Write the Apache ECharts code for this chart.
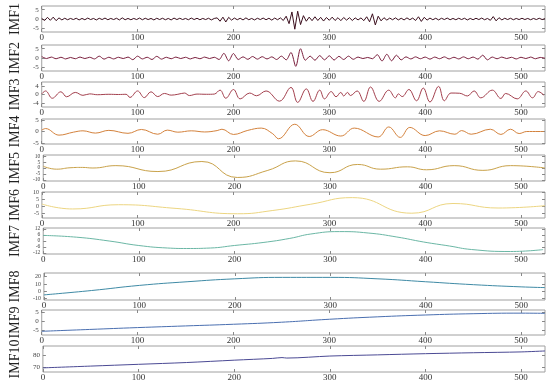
<!DOCTYPE html>
<html><head><meta charset="utf-8">
<script src="https://cdn.jsdelivr.net/npm/echarts@6/dist/echarts.min.js"></script>
<style>html,body{margin:0;padding:0;background:#fff}#c{width:550px;height:389px}</style>
</head><body><div id="c"></div>
<script>
const imfNames = ['IMF1','IMF2','IMF3','IMF4','IMF5','IMF6','IMF7','IMF8','IMF9','IMF10'];
const xTicks = [0,100,200,300,400,500];
const xMax = 525;
// y tick labels per panel
const yTicks = [[-5,0,5],[-5,0,5],[-4,0,4],[-5,0,5],[-10,-5,0,5,10],[-5,0,5,10],[-12,-6,0,6,12],[-10,0,10,20],[-5,0,5],[70,80]];
const yRanges = [[-7,7],[-7,7],[-6,6],[-5.5,5.5],[-11,11],[-8.5,10.5],[-13,13],[-12,25],[-7.5,6],[66,88]];
const yLabelSize = [7,7,7,7,5.5,6,5.5,6,7,7];
const lineColors = ['#3b0f1e','#7a1f3d','#a3404e','#d3823d','#c9a24a','#ecd581','#6bb7a5','#3f8aa5','#4a6fb0','#4b4a94'];

// IMF1: samples every 3 points
const imf1Step = 3;
const imf1 = [0.3,-0.8,0.9,-0.7,1.0,-0.9,0.6,-0.5,0.4,-0.4,0.3,
 -0.3,0.4,-0.5,0.3,-0.4,0.5,-0.3,0.3,-0.5,0.4,-0.3,0.5,-0.4,0.3,-0.3,0.4,-0.5,0.6,-0.4,0.3,
 -0.4,0.3,-0.3,0.5,-0.4,0.4,-0.3,0.3,-0.5,0.4,-0.3,0.4,-0.4,0.3,-0.5,0.5,-0.3,0.4,-0.3,0.3,
 -0.4,0.5,-0.3,0.4,-0.4,0.3,-0.3,0.4,-0.5,0.3,
 0.6,-1.2,1.0,-1.6,0.9,-0.6,
 0.5,-0.4,0.4,-0.5,0.6,-0.4,0.3,-0.5,0.4,-0.3,0.5,-0.4,0.4,-0.6,0.5,-0.4,0.6,
 -0.8,1.5,-2.5,3.8,-5.5,4.2,-3.0,1.8,-1.2,
 1.0,-0.9,1.2,-0.8,0.9,-1.1,0.8,-0.7,1.0,-0.8,0.7,-0.9,0.8,-0.6,0.7,-0.8,0.6,-0.5,
 0.6,-0.9,1.2,-1.5,2.8,-3.2,1.5,-1.0,0.7,-0.6,
 0.5,-0.4,0.6,-0.5,0.4,-0.5,0.6,-0.4,0.5,
 -0.8,1.2,-1.3,0.9,-0.6,
 0.5,-0.4,0.4,-0.5,0.4,-0.3,0.5,-0.4,0.3,-0.4,0.4,-0.3,0.4,-0.5,0.3,-0.4,0.4,-0.3,0.5,-0.4,0.3,
 -0.7,1.3,-1.0,0.7,-0.5,
 0.4,-0.3,0.4,-0.4,0.3,-0.3,0.4,-0.3,0.3,-0.4,0.3,-0.3,0.4,-0.3,0.2];
// IMF2: samples every 5 points
const imf2Step = 5;
const imf2 = [0.8,-0.3,0.5,-0.4,0.4,-0.5,0.3,-0.4,0.5,-0.3,0.4,-0.5,
 1.0,-0.6,
 0.4,-0.5,0.4,-0.3,0.5,
 -0.9,1.0,
 -0.5,0.4,-0.8,0.9,-0.6,
 0.4,-0.4,0.5,-0.3,0.4,-0.5,0.3,-0.4,0.5,-0.3,0.4,
 -0.8,2.5,-1.5,2.4,-0.8,
 0.6,-0.7,0.8,-0.6,0.7,-0.5,0.6,-0.8,
 1.0,-1.0,3.0,-4.5,5.0,-1.2,1.0,
 -1.2,1.3,-1.0,1.2,-1.1,0.9,-0.8,1.0,-0.7,0.5,
 -0.3,0.3,-0.4,
 1.8,-1.6,2.0,-1.5,1.5,-1.0,
 0.6,-0.5,0.6,-0.4,0.5,-0.6,0.5,-0.4,0.6,-0.5,0.4,-0.5,0.6,-0.4,0.5,-0.6,
 1.5,-1.0,
 0.5,-0.4,0.5,-0.3,0.4,-0.5,0.4,-0.3,0.5,-0.4,0.3,-0.1];
const imf3 = [[0,0.3],[4,1.7],[11,-1.8],[20,1.3],[26,-1.1],[35,1.0],[43,-0.4],[50,0.3],[58,-0.1],[70,0.1],[80,0],[88,0.1],
 [92,-1.4],[100,1.7],[107,-1.5],[114,1.3],[121,-1.0],[128,0.5],[135,-0.3],[142,0.1],[149,0.7],[154,-0.5],[162,0.2],[172,0.1],[180,0.2],
 [186,2.1],[192,-1.8],[200,2.4],[207,-2.1],[217,0.7],[224,-0.6],[234,1.7],[248,-3.2],
 [260,3.4],[267,-3.8],[276,2.7],[283,-3.3],[290,2.1],[295,-2.1],[302,1.4],[307,-1.1],[312,1.0],[315,-0.7],[319,1.0],[322,-0.5],[329,1.7],
 [336,-3.3],[343,3.6],[352,-3.3],[362,2.1],[369,-1.6],[372,0.3],[376,-1.0],[383,2.4],[391,-3.0],[398,3.1],[405,-3.6],[414,3.9],[420,-3.0],
 [427,0.7],[436,0.6],[444,-0.7],[451,1.7],[458,-1.6],[470,2.1],[479,-1.9],[484,0.5],[496,-2.1],[505,1.7],[512,-1.6],[518,1.4],[524,-0.4]];
const imf4 = [[0,0.6],[4,1.3],[18,-1.6],[33,-0.3],[43,0.3],[56,-0.7],[70,0.5],[90,-0.8],[104,0.9],[121,-1.2],[131,0.6],[142,-0.3],[156,0.3],
 [170,-0.2],[183,0.4],[188,1.0],[200,-1.3],[215,0.5],[229,1.5],[241,-1.0],[247,-3.2],[264,3.2],[279,-2.2],[293,0.8],[312,-2.0],[326,1.5],
 [351,-2.4],[362,2.0],[374,-2.6],[384,1.8],[400,-1.8],[415,0.3],[431,-1.2],[438,0.4],[448,-1.2],[468,1.0],[479,-1.3],[489,1.0],[498,-0.9],[506,0],[524,0]];
const imf5 = [[0,1.5],[14,-1],[28,0.2],[41,0.5],[52,0],[76,2],[120,-3],[166,5.5],[203,-8],[235,-2],[264,6],[300,-4],[329,3],[353,-1],[381,1],[401,-1.5],[430,2],[460,-2],[489,2],[525,0]];
const imf6 = [[0,1.7],[32,-1.9],[80,1.2],[140,-1.5],[204,-5.4],[241,-3],[280,1.5],[324,6.4],[386,-5],[429,2.1],[476,-1.2],[525,0.5]];
const imf7 = [[0,5.6],[35,3.8],[69,0],[100,-4.5],[130,-7],[150,-7.5],[175,-7],[200,-4.5],[230,-1.5],[258,2.6],[280,7],[310,9.4],[340,8],[370,4],[398,-1],[425,-5],[448,-8.5],[489,-10.5],[523,-8.6]];
const imf8 = [[0,-5],[50,1],[100,8],[150,13],[200,17],[250,19],[300,19],[350,17],[400,13],[450,9],[500,6],[525,5]];
const imf9 = [[0,-5.5],[50,-4.5],[100,-3.5],[150,-2.6],[200,-1.7],[250,-0.6],[300,1],[350,2.3],[400,3.3],[450,4],[500,4.3],[525,4.2]];
const imf10 = [[0,69.5],[50,71],[100,72.5],[150,74],[200,76],[240,77.5],[250,78.2],[255,77.8],[300,79.5],[350,80.5],[400,81.5],[450,82.3],[500,83],[525,83.8]];

const stepped = (arr, step) => arr.map((v,i)=>[i*step, v]);
const seriesData = [stepped(imf1,imf1Step), stepped(imf2,imf2Step), imf3, imf4, imf5, imf6, imf7, imf8, imf9, imf10];
const smoothness = [false,0.3,0.4,0.4,0.5,0.5,0.5,0.5,0.5,0.3];

// layout (px)
const frames = [[6,32],[45,71],[82,107],[119,144],[155,181],[192,218],[228,254],[273,300],[310,335],[346,372]];
const L = 36, R = 5;
const font = 'Liberation Serif';
const grid=[], xAxis=[], yAxis=[], series=[];
const tickStyle = {color:'#888'};
frames.forEach((f,i)=>{
  grid.push({left:L, right:R, top:f[0], height:f[1]-f[0], show:true, borderColor:'#a0a0a0', borderWidth:1, backgroundColor:'#fff'});
  xAxis.push({type:'value', gridIndex:i, min:0, max:xMax, position:'bottom',
    axisLine:{show:false, onZero:false}, splitLine:{show:false},
    axisTick:{show:true, inside:true, length:3, lineStyle:tickStyle, customValues:xTicks},
    axisLabel:{show:true, customValues:xTicks, fontFamily:font, fontSize:9, color:'#333', margin:1}});
  xAxis.push({type:'value', gridIndex:i, min:0, max:xMax, position:'top',
    axisLine:{show:false, onZero:false}, splitLine:{show:false},
    axisTick:{show:true, inside:true, length:3, lineStyle:tickStyle, customValues:xTicks},
    axisLabel:{show:false}});
  yAxis.push({type:'value', gridIndex:i, min:yRanges[i][0], max:yRanges[i][1], position:'left',
    name:imfNames[i], nameLocation:'middle', nameRotate:90, nameGap:19,
    nameTextStyle:{fontFamily:font, fontSize:14, color:'#222'},
    axisLine:{show:false, onZero:false}, splitLine:{show:false},
    axisTick:{show:true, inside:true, length:3, lineStyle:tickStyle, customValues:yTicks[i]},
    axisLabel:{show:true, customValues:yTicks[i], fontFamily:font, fontSize:yLabelSize[i], color:'#444', margin:3,
      hideOverlap:false, showMinLabel:true, showMaxLabel:true}});
  yAxis.push({type:'value', gridIndex:i, min:yRanges[i][0], max:yRanges[i][1], position:'right',
    axisLine:{show:false, onZero:false}, splitLine:{show:false},
    axisTick:{show:true, inside:true, length:3, lineStyle:tickStyle, customValues:yTicks[i]},
    axisLabel:{show:false}});
  series.push({type:'line', xAxisIndex:2*i, yAxisIndex:2*i, data:seriesData[i], showSymbol:false,
    smooth:smoothness[i], lineStyle:{color:lineColors[i], width:1}, animation:false, clip:true});
});
const chart = echarts.init(document.getElementById('c'), null, {renderer:'canvas'});
chart.setOption({animation:false, grid, xAxis, yAxis, series});
</script></body></html>
